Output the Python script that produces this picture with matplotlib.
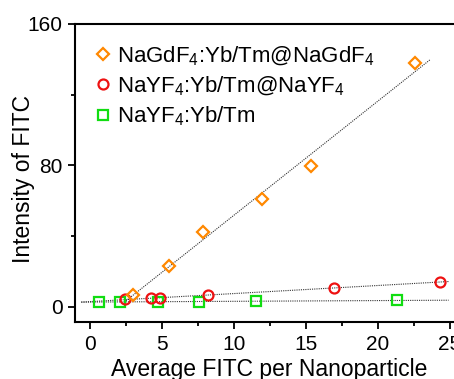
import matplotlib
matplotlib.use('Agg')
import matplotlib.pyplot as plt
import numpy as np
from matplotlib.ticker import MultipleLocator

plt.rcParams['font.family'] = ['Liberation Sans', 'DejaVu Sans']
plt.rcParams['mathtext.default'] = 'regular'

# NaGdF4:Yb/Tm@NaGdF4
gd_x = [2.96, 5.46, 7.82, 11.92, 15.35, 22.59]
gd_y = [6.6, 23.2, 42.1, 61.0, 79.5, 137.7]
# NaYF4:Yb/Tm@NaYF4
ycs_x = [2.45, 4.24, 4.86, 8.22, 16.97, 24.3]
ycs_y = [4.3, 4.7, 5.1, 6.6, 10.4, 14.2]
# NaYF4:Yb/Tm
core_x = [0.6, 2.08, 4.72, 7.55, 11.5, 21.3]
core_y = [2.8, 2.8, 2.8, 2.8, 3.2, 3.6]

labels = ['NaGdF$_4$:Yb/Tm@NaGdF$_4$', 'NaYF$_4$:Yb/Tm@NaYF$_4$', 'NaYF$_4$:Yb/Tm']

fig = plt.figure(figsize=(4.54, 3.79), dpi=100)
ax = fig.add_axes([0.165, 0.150, 0.858, 0.787])

# linear fits
def fitline(x, y, x0, x1):
    k, b = np.polyfit(x, y, 1)
    xx = np.array([x0, x1])
    ax.plot(xx, k * xx + b, ls=(0, (1, 1)), color='#333333', lw=0.8, zorder=1)

fitline(gd_x, gd_y, 2.5, 23.6)
fitline(ycs_x, ycs_y, -0.6, 24.9)
fitline(core_x, core_y, -0.6, 24.9)

ax.plot(core_x, core_y, 's', ms=6.8, mfc='none', mec='#11dd11', mew=1.6, label=labels[2], zorder=3)
ax.plot(ycs_x, ycs_y, 'o', ms=7.2, mfc='none', mec='#ee1111', mew=1.6, label=labels[1], zorder=4)
ax.plot(gd_x, gd_y, 'D', ms=6.6, mfc='none', mec='#ff8800', mew=1.6, label=labels[0], zorder=5)

ax.set_xlim(-1.04, 26)
ax.set_ylim(-8.7, 160)
ax.xaxis.set_major_locator(MultipleLocator(5))
ax.xaxis.set_minor_locator(MultipleLocator(2.5))
ax.yaxis.set_major_locator(MultipleLocator(80))
ax.yaxis.set_minor_locator(MultipleLocator(40))
ax.tick_params(which='both', direction='out', width=1.3, labelsize=15, top=False, right=False)
ax.tick_params(which='major', length=5, pad=4)
ax.tick_params(which='minor', length=3)
for s in ax.spines.values():
    s.set_linewidth(1.5)

ax.set_xlabel('Average FITC per Nanoparticle', fontsize=16.5)
ax.set_ylabel('Intensity of FITC', fontsize=16.5)
ax.xaxis.set_label_coords(0.5, -0.12)
ax.yaxis.set_label_coords(-0.103, 0.48)

h, l = ax.get_legend_handles_labels()
ax.legend(h[::-1], l[::-1], loc='upper left', frameon=False, fontsize=16,
          handletextpad=0.1, handlelength=1.0, labelspacing=0.3,
          borderaxespad=0.2, bbox_to_anchor=(0.01, 0.975))

fig.savefig('out.png', dpi=100)
